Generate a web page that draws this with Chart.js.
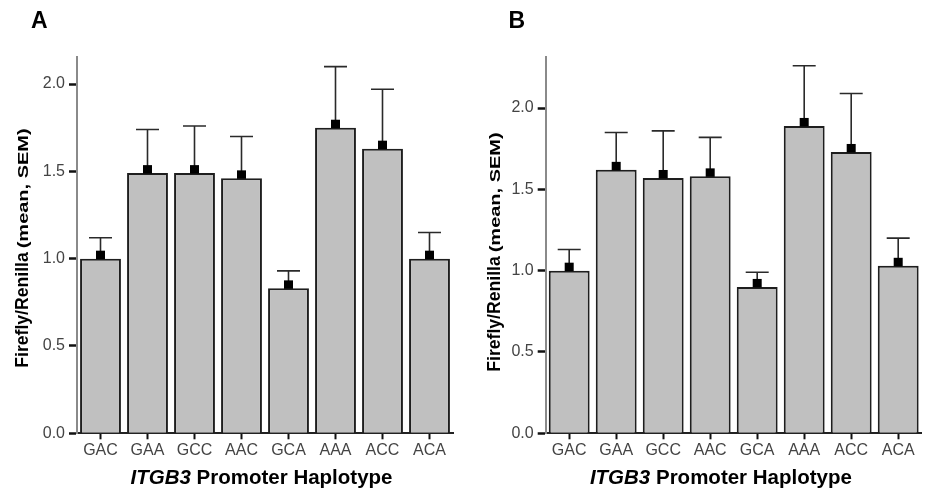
<!DOCTYPE html>
<html><head><meta charset="utf-8">
<script src="https://cdn.jsdelivr.net/npm/chart.js@4/dist/chart.umd.min.js"></script>
<style>
html,body{margin:0;padding:0;background:#fff;}
#wrap{display:flex;width:930px;height:499px;}
.panel{position:relative;width:465px;height:499px;}
canvas{display:block;}
</style></head><body>
<div id="wrap">
<div class="panel"><canvas id="cA" width="465" height="499"></canvas></div>
<div class="panel"><canvas id="cB" width="465" height="499"></canvas></div>
</div>
<script>
// ---- data ----
const haplotypes = ['GAC','GAA','GCC','AAC','GCA','AAA','ACC','ACA'];
const meanA = [1.00, 1.49, 1.49, 1.46, 0.83, 1.75, 1.63, 1.00];
const semA  = [0.12, 0.25, 0.27, 0.24, 0.10, 0.35, 0.34, 0.15];
const meanB = [1.00, 1.62, 1.57, 1.58, 0.90, 1.89, 1.73, 1.03];
const semB  = [0.13, 0.23, 0.29, 0.24, 0.09, 0.37, 0.36, 0.17];
const yTicks = [0, 0.5, 1.0, 1.5, 2.0];
const panelLetters = ['A', 'B'];
const yTitleMain = 'Firefly/Renilla';
const yTitleSub = '(mean, SEM)';
const xTitleItalic = 'ITGB3';
const xTitleRest = ' Promoter Haplotype';

const FONT = '"Liberation Sans", Arial, sans-serif';

function makePanel(canvasId, means, sems, letter, cfg) {
  const deco = {
    id: 'deco' + letter,
    afterDatasetsDraw(chart) {
      const ctx = chart.ctx;
      const ys = chart.scales.y;
      const meta = chart.getDatasetMeta(0);
      ctx.save();
      meta.data.forEach((bar, i) => {
        const top = bar.y;
        const capY = ys.getPixelForValue(means[i] + sems[i]);
        ctx.strokeStyle = '#2a2a2a';
        ctx.lineWidth = 1.6;
        ctx.beginPath();
        ctx.moveTo(bar.x, top - 6);
        ctx.lineTo(bar.x, capY);
        ctx.moveTo(bar.x - 11.5, capY);
        ctx.lineTo(bar.x + 11.5, capY);
        ctx.stroke();
        ctx.fillStyle = '#000';
        ctx.fillRect(bar.x - 4.5, top - 8, 9, 8.5);
      });
      ctx.restore();
    },
    afterDraw(chart) {
      const ctx = chart.ctx;
      const ca = chart.chartArea;
      ctx.save();
      ctx.fillStyle = '#000';
      // panel letter
      ctx.font = 'bold 23px ' + FONT;
      ctx.textBaseline = 'alphabetic';
      ctx.textAlign = 'left';
      ctx.fillText(letter, cfg.letterX, 27.5);
      // x title
      const fx = 'bold 20.5px ' + FONT;
      const fxi = 'italic bold 20.5px ' + FONT;
      ctx.font = fxi; const w1 = ctx.measureText(xTitleItalic).width;
      ctx.font = fx; const w2 = ctx.measureText(xTitleRest).width;
      let sx = (ca.left + ca.right) / 2 + cfg.xTitleShift - (w1 + w2) / 2;
      ctx.font = fxi; ctx.fillText(xTitleItalic, sx, 484);
      ctx.font = fx; ctx.fillText(xTitleRest, sx + w1, 484);
      // y title (rotated)
      ctx.translate(cfg.yTitleX, cfg.yTitleCY);
      ctx.rotate(-Math.PI / 2);
      ctx.font = 'bold 17.6px ' + FONT;
      const m1 = ctx.measureText(yTitleMain).width;
      ctx.font = 'bold 14px ' + FONT;
      const m2raw = ctx.measureText(yTitleSub).width;
      const gap = 4;
      const m2 = 120;
      const total = m1 + gap + m2;
      const start = -total / 2;
      ctx.font = 'bold 17.6px ' + FONT;
      ctx.fillText(yTitleMain, start, 0);
      ctx.save();
      ctx.translate(start + m1 + gap, 0);
      ctx.scale(m2 / m2raw, 1);
      ctx.font = 'bold 14px ' + FONT;
      ctx.fillText(yTitleSub, 0, 0);
      ctx.restore();
      ctx.restore();
    }
  };

  return new Chart(document.getElementById(canvasId), {
    type: 'bar',
    data: {
      labels: haplotypes,
      datasets: [{
        data: means,
        backgroundColor: '#c0c0c0',
        borderColor: '#1e1e1e',
        borderWidth: 2,
        borderSkipped: 'bottom',
        barPercentage: 0.87,
        categoryPercentage: 1.0
      }]
    },
    options: {
      responsive: false,
      animation: false,
      devicePixelRatio: 1,
      layout: { padding: { top: 57, right: cfg.padRight, bottom: 0, left: 0 } },
      plugins: { legend: { display: false }, tooltip: { enabled: false }, title: { display: false } },
      scales: {
        x: {
          offset: true,
          afterFit(s) { s.height = 65.7; },
          grid: { display: true, drawOnChartArea: false, drawTicks: true, offset: false,
                  tickLength: 6, tickColor: '#111', tickWidth: 2 },
          border: { display: true, color: '#222', width: 2 },
          ticks: { color: '#444', font: { family: FONT, size: 16 }, padding: 2, maxRotation: 0, autoSkip: false }
        },
        y: {
          min: 0, max: cfg.yMax,
          afterFit(s) { s.width = cfg.axisX; },
          afterBuildTicks(s) { s.ticks = yTicks.map(v => ({ value: v })); },
          grid: { display: true, drawOnChartArea: false, drawTicks: true,
                  tickLength: 8, tickColor: '#111', tickWidth: 2.5 },
          border: { display: true, color: '#8a8a8a', width: 2 },
          ticks: { color: '#444', font: { family: FONT, size: 16 }, padding: 4,
                   callback: v => Number(v).toFixed(1) }
        }
      }
    },
    plugins: [deco]
  });
}

makePanel('cA', meanA, semA, panelLetters[0],
  { yMax: 2.155, axisX: 77, padRight: 12, letterX: 31, yTitleX: 28, yTitleCY: 248, xTitleShift: -3.5 });
makePanel('cB', meanB, semB, panelLetters[1],
  { yMax: 2.314, axisX: 80.7, padRight: 8.3, letterX: 43.5, yTitleX: 34.7, yTitleCY: 252, xTitleShift: -12.8 });
</script>
</body></html>
